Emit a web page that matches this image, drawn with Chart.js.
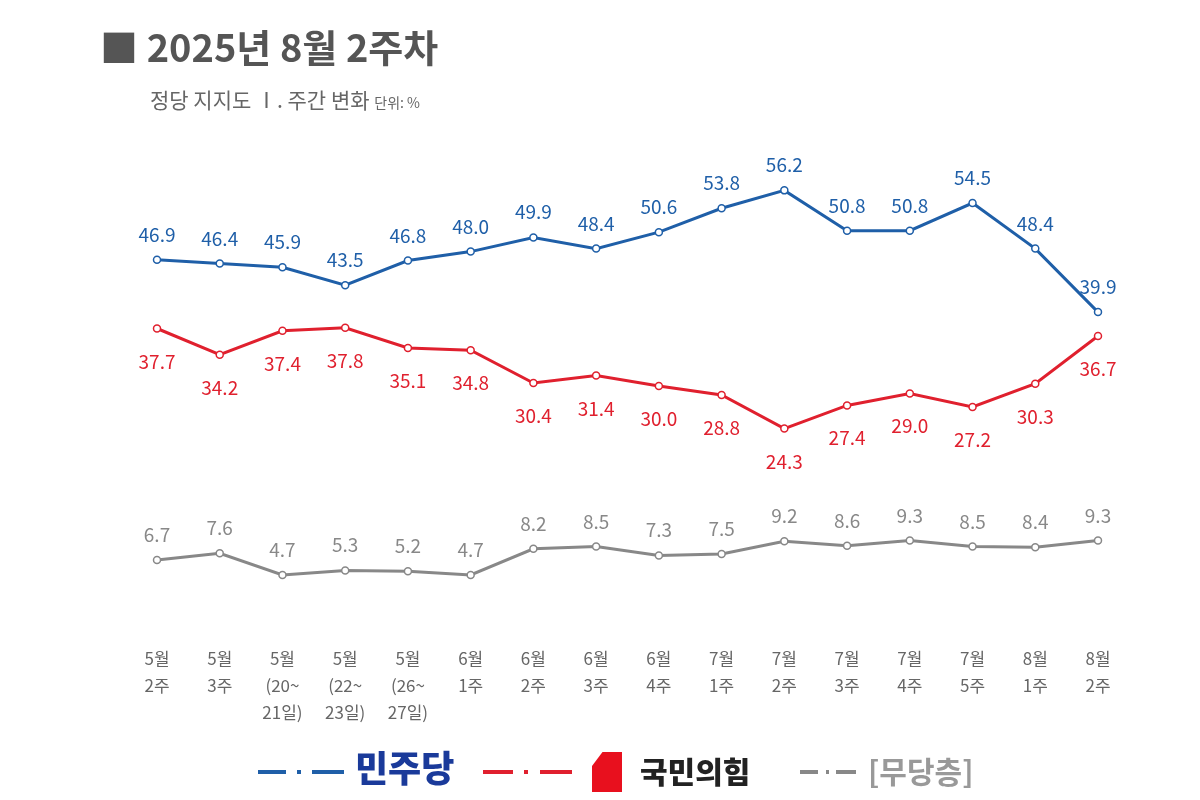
<!DOCTYPE html>
<html><head><meta charset="utf-8">
<script src="https://cdn.jsdelivr.net/npm/chart.js@4"></script>
<style>
body{margin:0;background:#fff;font-family:"Noto Sans CJK KR","Noto Sans",sans-serif;}
#wrap{position:relative;width:1200px;height:800px;}
canvas{position:absolute;left:0;top:0;}
.t{position:absolute;white-space:nowrap;}
.ln{position:absolute;height:4px;}
</style></head><body>
<div id="wrap">
<canvas id="c" width="1200" height="800"></canvas>
<div class="t" style="left:100px;top:18px;font-size:38px;font-weight:bold;color:#555;">■ 2025년 8월 2주차</div>
<div class="t" style="left:150px;top:84px;font-size:21px;color:#666;">정당 지지도 Ⅰ. 주간 변화 <span style="font-size:14px">단위: %</span></div>
<div class="ln" style="left:258px;top:770px;width:28px;background:#1f5fa8"></div>
<div class="ln" style="left:297px;top:770px;width:4px;background:#1f5fa8"></div>
<div class="ln" style="left:312px;top:770px;width:32px;background:#1f5fa8"></div>
<div class="t" style="left:355px;top:740px;font-size:36px;font-weight:900;color:#1a3a9a;">민주당</div>
<div class="ln" style="left:483px;top:770px;width:30px;background:#e0202e"></div>
<div class="ln" style="left:524px;top:770px;width:4px;background:#e0202e"></div>
<div class="ln" style="left:540px;top:770px;width:32px;background:#e0202e"></div>
<div style="position:absolute;left:592px;top:752px;width:30px;height:40px;background:#e8101e;clip-path:polygon(35% 0,100% 0,100% 100%,0 100%,0 35%);"></div>
<div class="t" style="left:640px;top:748px;font-size:30px;font-weight:900;color:#222;">국민의힘</div>
<div class="ln" style="left:800px;top:770px;width:18px;background:#888"></div>
<div class="ln" style="left:826px;top:770px;width:3px;background:#888"></div>
<div class="ln" style="left:836px;top:770px;width:20px;background:#888"></div>
<div class="t" style="left:868px;top:748px;font-size:30px;font-weight:bold;color:#999;">[무당층]</div>
</div>
<script>
const labels=[["5월","2주"],["5월","3주"],["5월","(20~","21일)"],["5월","(22~","23일)"],["5월","(26~","27일)"],["6월","1주"],["6월","2주"],["6월","3주"],["6월","4주"],["7월","1주"],["7월","2주"],["7월","3주"],["7월","4주"],["7월","5주"],["8월","1주"],["8월","2주"]];
const minju=[46.9,46.4,45.9,43.5,46.8,48.0,49.9,48.4,50.6,53.8,56.2,50.8,50.8,54.5,48.4,39.9];
const ppp=[37.7,34.2,37.4,37.8,35.1,34.8,30.4,31.4,30.0,28.8,24.3,27.4,29.0,27.2,30.3,36.7];
const none=[6.7,7.6,4.7,5.3,5.2,4.7,8.2,8.5,7.3,7.5,9.2,8.6,9.3,8.5,8.4,9.3];

const ds=(d,c,up)=>({data:d,borderColor:c,borderWidth:3,pointRadius:3.5,pointBackgroundColor:'#fff',pointBorderColor:c,pointBorderWidth:1.5,up:up,tension:0});
const lbl={id:'lbl',afterDatasetsDraw(ch){
  const c=ch.ctx;c.save();c.textAlign='center';c.font='19px "Noto Sans CJK KR"';
  ch.data.datasets.forEach((d,i)=>{
    const m=ch.getDatasetMeta(i);c.fillStyle=d.borderColor;
    m.data.forEach((p,j)=>{c.fillText(d.data[j].toFixed(1),p.x,d.up?p.y-18:p.y+40);});
  });
  c.fillStyle='#666';c.font='17px "Noto Sans CJK KR"';
  const xs=ch.scales.x;
  labels.forEach((l,j)=>{const x=xs.getPixelForValue(j);l.forEach((s,k)=>c.fillText(s,x,665+k*27));});
  c.restore();
}};
new Chart(document.getElementById('c'),{type:'line',
  data:{labels:labels,datasets:[ds(minju,'#1f5fa8',true),ds(ppp,'#e0202e',false),ds(none,'#888',true)]},
  options:{responsive:false,animation:false,layout:{padding:{left:157,right:102,top:162,bottom:190}},
    plugins:{legend:{display:false},tooltip:{enabled:false}},
    scales:{x:{display:false},y:{display:false,min:0,max:60}}},
  plugins:[lbl]});
</script>
</body></html>
